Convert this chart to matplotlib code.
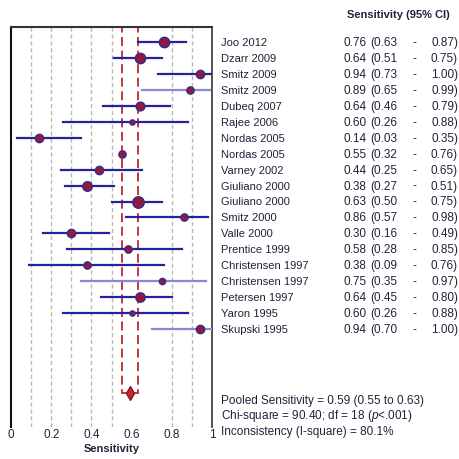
import numpy as np
import matplotlib
matplotlib.use("Agg")
import matplotlib.pyplot as plt
import matplotlib.transforms as mtransforms

plt.rcParams['font.family'] = ['Liberation Sans', 'DejaVu Sans']
plt.rcParams['mathtext.fontset'] = 'custom'
plt.rcParams['mathtext.it'] = 'Liberation Sans:italic'
plt.rcParams['mathtext.rm'] = 'Liberation Sans'

# data
studies = ["Joo 2012", "Dzarr 2009", "Smitz 2009", "Smitz 2009", "Dubeq 2007",
           "Rajee 2006", "Nordas 2005", "Nordas 2005", "Varney 2002",
           "Giuliano 2000", "Giuliano 2000", "Smitz 2000", "Valle 2000",
           "Prentice 1999", "Christensen 1997", "Christensen 1997",
           "Petersen 1997", "Yaron 1995", "Skupski 1995"]
sens = [0.76, 0.64, 0.94, 0.89, 0.64, 0.60, 0.14, 0.55, 0.44, 0.38,
        0.63, 0.86, 0.30, 0.58, 0.38, 0.75, 0.64, 0.60, 0.94]
ci_lo = [0.63, 0.51, 0.73, 0.65, 0.46, 0.26, 0.03, 0.32, 0.25, 0.27,
         0.50, 0.57, 0.16, 0.28, 0.09, 0.35, 0.45, 0.26, 0.70]
ci_hi = [0.87, 0.75, 1.00, 0.99, 0.79, 0.88, 0.35, 0.76, 0.65, 0.51,
         0.75, 0.98, 0.49, 0.85, 0.76, 0.97, 0.80, 0.88, 1.00]
weights = [5.0, 5.0, 4.0, 3.5, 4.2, 2.5, 4.0, 3.5, 4.0, 4.6,
           5.5, 3.5, 4.0, 3.5, 3.5, 3.0, 4.5, 2.5, 4.0]
pooled = 0.59
pooled_lo = 0.55
pooled_hi = 0.63
chi2 = 90.40
df = 18
i2 = 80.1

navy = "#2323a0"
light = "#8c86d8"
red = "#c0282d"
txt = "#22223a"
line_cols = [navy, navy, navy, light, navy, navy, navy, "none", navy, navy,
             navy, navy, navy, navy, navy, light, navy, navy, light]

fig = plt.figure(figsize=(4.59, 4.60), dpi=100)
ax = fig.add_axes([11 / 459, 1 - 428 / 460, 201 / 459, 400 / 460])

step = 15.95
y_top = 43
y = np.arange(len(studies))
pooled_y = (394 - y_top) / step
ax.set_xlim(0, 1)
ax.set_ylim((428 - y_top) / step, (28 - y_top) / step)

# grid
for g in [0.1, 0.2, 0.3, 0.4, 0.5, 0.8, 0.9]:
    ax.axvline(g, color="#b8b8b8", lw=1, ls=(0, (3, 2)), zorder=0)

# pooled CI band
ax.plot([pooled_lo, pooled_lo], [-2, pooled_y], color=red, lw=1.3, ls=(0, (5, 2.5)), zorder=2)
ax.plot([pooled_hi, pooled_hi], [-2, pooled_y], color=red, lw=1.3, ls=(0, (5, 2.5)), zorder=2)
ax.plot([pooled_lo, pooled_hi], [pooled_y, pooled_y], color=red, lw=1.3, zorder=2)
ax.plot([pooled], [pooled_y], marker="d", ms=7, color=red, mec="#901020", zorder=4)

for i in range(len(studies)):
    if line_cols[i] != "none":
        ax.plot([ci_lo[i], ci_hi[i]], [y[i], y[i]], color=line_cols[i], lw=1.6, zorder=3)
    ax.plot([sens[i]], [y[i]], marker="o", ms=weights[i] * 1.5, mfc="#8e1b3e",
            mec="#3b2a86", mew=1, zorder=5)

ax.spines["bottom"].set_visible(False)
ax.spines["left"].set_linewidth(1.5)
ax.spines["left"].set_color("#111111")
ax.spines["top"].set_linewidth(1.5)
ax.spines["top"].set_color("#333333")
ax.spines["right"].set_linewidth(1.3)
ax.spines["right"].set_color("#444444")

ax.set_yticks([])
ax.set_xticks([0, 0.2, 0.4, 0.6, 0.8, 1])
ax.set_xticklabels(["0", "0.2", "0.4", "0.6", "0.8", "1"])
ax.tick_params(axis="x", length=0, pad=1, labelsize=8.5, labelcolor=txt)
ax.set_xlabel("Sensitivity", fontsize=8, fontweight="bold", color=txt, labelpad=2)

trans = mtransforms.blended_transform_factory(ax.transAxes, ax.transData)
fs = 8.5
for i in range(len(studies)):
    ax.text(1.045, y[i], studies[i], transform=trans, fontsize=8, color=txt,
            va="center", ha="left", clip_on=False)
    ax.text(1.652, y[i], f"{sens[i]:.2f}", transform=trans, fontsize=fs, color=txt,
            va="center", ha="left", clip_on=False)
    ax.text(1.786, y[i], f"({ci_lo[i]:.2f}", transform=trans, fontsize=fs, color=txt,
            va="center", ha="left", clip_on=False)
    ax.text(2.005, y[i], "-", transform=trans, fontsize=fs, color=txt,
            va="center", ha="center", clip_on=False)
    ax.text(2.224, y[i], f"{ci_hi[i]:.2f})", transform=trans, fontsize=fs, color=txt,
            va="center", ha="right", clip_on=False)

fig.text(398 / 459, 1 - 15 / 460, "Sensitivity (95% CI)", fontsize=8, fontweight="bold",
         color=txt, ha="center", va="center")

sx = 221 / 459
fig.text(sx, 1 - 401 / 460,
         f"Pooled Sensitivity = {pooled:.2f} ({pooled_lo:.2f} to {pooled_hi:.2f})",
         fontsize=fs, color=txt, va="center")
fig.text(sx, 1 - 416 / 460,
         f"Chi-square = {chi2:.2f}; df = {df} ($p$<.001)",
         fontsize=fs, color=txt, va="center")
fig.text(sx, 1 - 432 / 460,
         f"Inconsistency (I-square) = {i2:.1f}%",
         fontsize=fs, color=txt, va="center")

fig.savefig("out.png", dpi=100)
